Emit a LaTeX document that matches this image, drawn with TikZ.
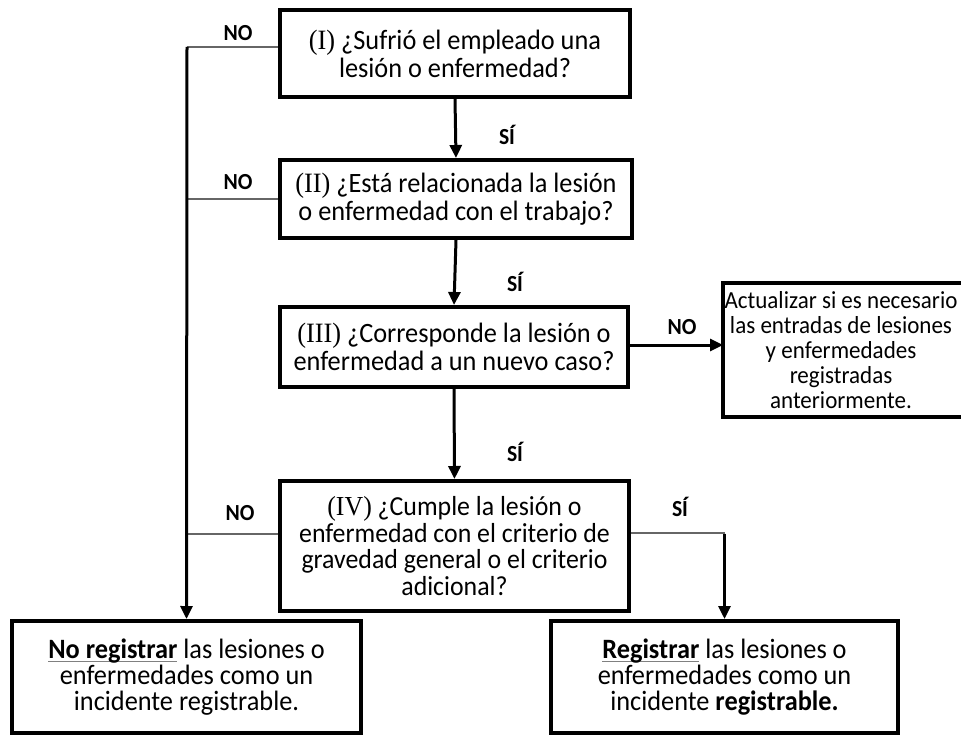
\documentclass[tikz,border=0pt]{standalone}
\usepackage{fontspec}
\setmainfont[FakeStretch=0.94]{Carlito}
\newfontfamily\numfont[FakeStretch=0.94]{Liberation Serif}
\usetikzlibrary{arrows.meta}
\newcommand{\rn}[1]{{\numfont(#1)}}
\newsavebox{\ulbox}
\newcommand{\ulb}[1]{\sbox{\ulbox}{\textbf{#1}}\rlap{\color{gray}\rule[-3.5pt]{\wd\ulbox}{0.8pt}}\usebox{\ulbox}}
\begin{document}
\begin{tikzpicture}[x=1pt,y=-1pt,
  qbox/.style={draw=black,line width=4pt,align=center,inner sep=0pt,
    font=\fontsize{28}{28}\selectfont},
  flow/.style={line width=3pt,-{Triangle[length=13pt,width=12pt]}},
  branch/.style={line width=1.5pt,draw=black!60},
  lbl/.style={font=\fontsize{23}{24}\selectfont\bfseries,inner sep=0pt}]
\useasboundingbox (0,0) rectangle (961,735);

% question boxes
\node[qbox,minimum width=350pt,minimum height=87pt] (q1) at (455,53.5)
  {\rn{I} ¿Sufrió el empleado una\\lesión o enfermedad?};
\node[qbox,minimum width=352pt,minimum height=78pt] (q2) at (456,199)
  {\rn{II} ¿Está relacionada la lesión\\o enfermedad con el trabajo?};
\node[qbox,minimum width=348pt,minimum height=80pt] (q3) at (454,347)
  {\rn{III} ¿Corresponde la lesión o\\enfermedad a un nuevo caso?};
\node[qbox,minimum width=349pt,minimum height=130pt,
  font=\fontsize{27.5}{26.5}\selectfont] (q4) at (454.5,546)
  {\rn{IV} ¿Cumple la lesión o\\enfermedad con el criterio de\\gravedad general o el criterio\\adicional?};

% update box (runs off the right edge)
\draw[line width=4pt] (973,283) -- (723,283) -- (723,417) -- (973,417);
\coordinate (upd) at (723,345);
\node[align=center,inner sep=0pt,font=\fontsize{24.5}{25}\selectfont] (updtxt) at (841,350)
  {Actualizar si es necesario\\las entradas de lesiones\\y enfermedades\\registradas\\anteriormente.};

% outcome boxes
\node[qbox,minimum width=349pt,minimum height=112pt,font=\fontsize{28}{26}\selectfont]
  (noreg) at (186.5,677)
  {\ulb{No registrar} las lesiones o\\enfermedades como un\\incidente registrable.};
\node[qbox,minimum width=347pt,minimum height=112pt,font=\fontsize{28}{26}\selectfont]
  (reg) at (724.5,677)
  {\ulb{Registrar} las lesiones o\\enfermedades como un\\incidente \textbf{registrable.}};

% "yes" path down the middle
\draw[flow] (q1.south) -- (q2.north);
\draw[flow] (q2.south) -- (q3.north);
\draw[flow] (q3.south) -- (q4.north);
\draw[flow] (q3.east |- upd) -- (upd);

% "no" branches to the left rail
\coordinate (n1) at (187,47);
\coordinate (n4) at (187,534);
\draw[branch] (n1 -| q1.west) -- (n1);
\draw[branch] (q2.west) -- (q2.west -| n1);
\draw[branch] (n4 -| q4.west) -- (n4);
\draw[flow] (n1) -- (noreg.north);

% "yes" from the last question
\coordinate (y4) at (724.5,533);
\draw[branch] (y4 -| q4.east) -- (y4);
\draw[flow] ([yshift=-0.7pt]y4) -- (reg.north);

% labels
\node[lbl] (no1) at (238,33) {NO};
\node[lbl] (no2) at (238,182) {NO};
\node[lbl] (no3) at (682,327) {NO};
\node[lbl] (no4) at (240,513) {NO};
\node[lbl] (si1) at (507,135) {SÍ};
\node[lbl] (si2) at (515,282) {SÍ};
\node[lbl] (si3) at (515,452) {SÍ};
\node[lbl] (si4) at (680,507) {SÍ};
\end{tikzpicture}
\end{document}
